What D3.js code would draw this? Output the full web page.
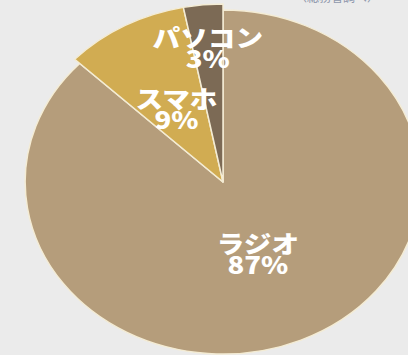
<!DOCTYPE html>
<html>
<head>
<meta charset="utf-8">
<script src="https://cdn.jsdelivr.net/npm/d3@7"></script>
<style>
  html, body { margin: 0; padding: 0; background: #ebebeb; }
  svg { display: block; }
</style>
</head>
<body>
<script>
// data
var categories = ["ラジオ", "スマホ", "パソコン"];
var shares = [87.1, 9.8, 3.1];
var colors = ["#b59d7b", "#d1ac52", "#7c6a55"];

var width = 408, height = 355;
var cx = 223, cy = 182;
var stretch = 1.15;   // picture is wider than tall
var labelR = [77, 84, 136];

var svg = d3.select("body").append("svg")
    .attr("width", width)
    .attr("height", height);

svg.append("rect")
    .attr("width", width)
    .attr("height", height)
    .attr("fill", "#ebebeb");

// source note, cut off at the top edge
svg.append("text")
    .attr("x", 337)
    .attr("y", 2)
    .attr("text-anchor", "middle")
    .attr("font-family", "Noto Sans CJK JP")
    .attr("font-size", 12)
    .attr("fill", "#8e97ab")
    .text("（総務省調べ）");

var pie = d3.pie()
    .sort(null)
    .value(function (d) { return d; });

var arcs = pie(shares);

var arc = d3.arc()
    .innerRadius(0)
    .outerRadius(function (d) { return d.index === 0 ? 172 : 178; });

var g = svg.append("g")
    .attr("transform", "translate(" + cx + "," + cy + ") scale(" + stretch + ",1)");

g.selectAll("path")
    .data(arcs)
    .enter()
    .append("path")
    .attr("d", arc)
    .attr("fill", function (d) { return colors[d.index]; })
    .attr("stroke", "#f4ecd4")
    .attr("stroke-width", 1.3)
    .attr("stroke-linejoin", "round");

function labelPos(d) {
    var a = (d.startAngle + d.endAngle) / 2;
    var r = labelR[d.index];
    return [r * Math.sin(a), -r * Math.cos(a)];
}

var lab = g.selectAll("g.lab")
    .data(arcs)
    .enter()
    .append("g")
    .attr("class", "lab")
    .attr("transform", function (d) {
        var p = labelPos(d);
        return "translate(" + p[0] + "," + p[1] + ")";
    })
    .attr("text-anchor", "middle")
    .attr("font-family", "Noto Sans CJK JP")
    .attr("font-weight", 900)
    .attr("font-size", 24)
    .attr("fill", "#ffffff");

lab.append("text")
    .attr("y", 0)
    .text(function (d) { return categories[d.index]; });

lab.append("text")
    .attr("y", 21)
    .text(function (d) { return Math.floor(d.value) + "%"; });
</script>
</body>
</html>
